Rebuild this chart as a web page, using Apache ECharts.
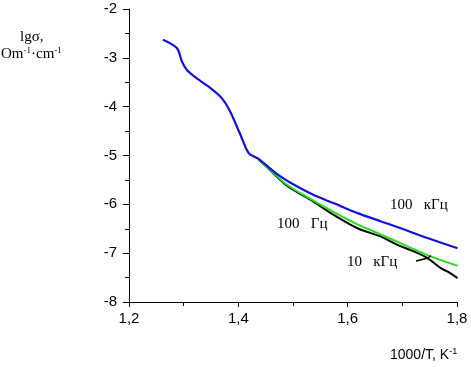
<!DOCTYPE html>
<html>
<head>
<meta charset="utf-8">
<script src="https://cdn.jsdelivr.net/npm/echarts@6/dist/echarts.min.js"></script>
<style>
  html, body { margin: 0; padding: 0; background: #fff; }
  #chart { width: 471px; height: 367px; }
</style>
</head>
<body>
<div id="chart"></div>
<script>
// lgσ vs 1000/T curves
const blue100k = [
  [1.262, -2.63], [1.2875, -2.80], [1.297, -3.08], [1.306, -3.25], [1.324, -3.42],
  [1.349, -3.62], [1.370, -3.83], [1.385, -4.10], [1.404, -4.58], [1.419, -4.95],
  [1.437, -5.07], [1.471, -5.38], [1.502, -5.60], [1.538, -5.81], [1.575, -5.98],
  [1.618, -6.18], [1.661, -6.35], [1.697, -6.49], [1.746, -6.69], [1.801, -6.90]
]
const green100 = [
  [1.437, -5.08], [1.459, -5.30], [1.489, -5.60], [1.538, -5.93], [1.575, -6.16],
  [1.618, -6.41], [1.661, -6.62], [1.697, -6.80], [1.746, -7.04], [1.801, -7.26]
]
const black10k = [
  [1.437, -5.08], [1.459, -5.31], [1.489, -5.62], [1.538, -5.95], [1.575, -6.22],
  [1.618, -6.49], [1.661, -6.66], [1.691, -6.83], [1.722, -6.97], [1.746, -7.10],
  [1.771, -7.31], [1.783, -7.38], [1.801, -7.51]
]
const pointer10k = [[1.725, -7.16], [1.747, -7.10], [1.752, -7.05]]
const xTicks = [1.2, 1.4, 1.6, 1.8]

const chart = echarts.init(document.getElementById('chart'))
const fmt = v => String(Math.round(v * 10) / 10).replace('.', ',')
const line = (data, color, width) => ({
  type: 'line',
  data: data,
  showSymbol: false,
  smooth: 0.3,
  lineStyle: { color: color, width: width },
  silent: true,
  animation: false
})

chart.setOption({
  animation: false,
  grid: { left: 129, right: 14, top: 9, bottom: 65 },
  xAxis: {
    type: 'value',
    min: 1.2,
    max: 1.8,
    interval: 0.2,
    axisLine: { onZero: false, lineStyle: { color: '#000', width: 1 } },
    axisTick: { length: 5, lineStyle: { color: '#000' } },
    minorTick: { show: true, splitNumber: 2, length: 4, lineStyle: { color: '#000' } },
    splitLine: { show: false },
    axisLabel: {
      color: '#000',
      fontSize: 15,
      fontFamily: 'Liberation Sans',
      margin: 9,
      formatter: v => xTicks.some(t => Math.abs(t - v) < 1e-6) ? fmt(v) : ''
    }
  },
  yAxis: {
    type: 'value',
    min: -8,
    max: -2,
    interval: 1,
    axisLine: { show: true, lineStyle: { color: '#000', width: 1 } },
    axisTick: { show: true, length: 6, lineStyle: { color: '#000' } },
    minorTick: { show: true, splitNumber: 2, length: 4, lineStyle: { color: '#000' } },
    splitLine: { show: false },
    axisLabel: { color: '#000', fontSize: 15, fontFamily: 'Liberation Sans', margin: 12 }
  },
  series: [
    line(black10k, '#000000', 2),
    line(green100, '#22e01e', 2),
    line(blue100k, '#1010e0', 2.2),
    Object.assign(line(pointer10k, '#000000', 1.5), { smooth: false })
  ],
  graphic: [
    {
      type: 'text', left: 20, top: 30,
      style: {
        text: '{a|lgσ,}',
        rich: { a: { fontFamily: 'Liberation Serif', fontSize: 15, color: '#000' } }
      }
    },
    {
      type: 'text', left: 1, top: 46,
      style: {
        text: '{b|Om}{s|-1}{b|·cm}{s|-1}',
        rich: {
          b: { fontFamily: 'Liberation Serif', fontSize: 15, color: '#000' },
          s: { fontFamily: 'Liberation Serif', fontSize: 9, color: '#000', verticalAlign: 'top', padding: [0, 0, 7, 0] }
        }
      }
    },
    {
      type: 'text', left: 390, top: 198,
      style: { text: '100   кГц', fontFamily: 'Liberation Serif', fontSize: 15, fill: '#000' }
    },
    {
      type: 'text', left: 277, top: 217,
      style: { text: '100   Гц', fontFamily: 'Liberation Serif', fontSize: 15, fill: '#000' }
    },
    {
      type: 'text', left: 347, top: 255,
      style: { text: '10   кГц', fontFamily: 'Liberation Serif', fontSize: 15, fill: '#000' }
    },
    {
      type: 'text', left: 390, top: 347,
      style: {
        text: '{b|1000/T, K}{s|-1}',
        rich: {
          b: { fontFamily: 'Liberation Sans', fontSize: 14, color: '#000' },
          s: { fontFamily: 'Liberation Sans', fontSize: 9, color: '#000', verticalAlign: 'top', padding: [0, 0, 8, 0] }
        }
      }
    }
  ]
})
</script>
</body>
</html>
